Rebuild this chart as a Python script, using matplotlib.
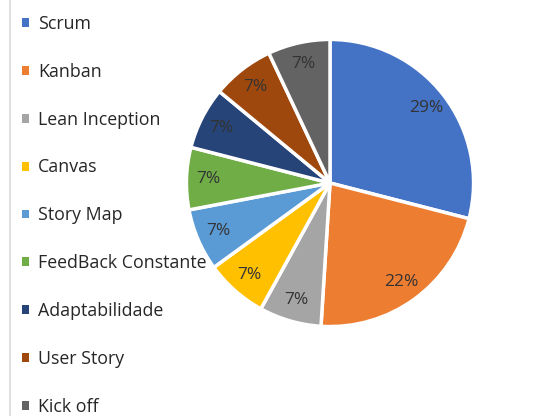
import matplotlib.pyplot as plt
from matplotlib.lines import Line2D

# data
labels = ["Scrum", "Kanban", "Lean Inception", "Canvas", "Story Map",
          "FeedBack Constante", "Adaptabilidade", "User Story", "Kick off"]
values = [29, 22, 7, 7, 7, 7, 7, 7, 7]
colors = ["#4472C4", "#ED7D31", "#A5A5A5", "#FFC000", "#5B9BD5",
          "#70AD47", "#264478", "#9E480E", "#636363"]

W, H = 553, 416
fig = plt.figure(figsize=(W / 100, H / 100), dpi=100)
fig.patch.set_facecolor("white")

# pie centred at (330,183) px, radius ~144 px
cx, cy, r = 330, 183, 145
ax = fig.add_axes([(cx - r) / W, (H - cy - r) / H, 2 * r / W, 2 * r / H])
wedges, texts, autotexts = ax.pie(
    values, colors=colors, startangle=90, counterclock=False,
    autopct="%d%%", pctdistance=0.85, radius=1,
    wedgeprops=dict(edgecolor="white", linewidth=2.5),
    textprops=dict(color="#333333", fontsize=12.5, family="Open Sans"))
ax.set_xlim(-1.01, 1.01)
ax.set_ylim(-1.01, 1.01)
ax.set_aspect("equal")
ax.axis("off")

# legend on the left
leg = fig.legend(wedges, labels, loc="upper left",
                 bbox_to_anchor=(13 / W, 1 - 6 / H), frameon=False,
                 handlelength=0.4, handleheight=0.4, handletextpad=0.5,
                 labelspacing=1.68, borderpad=0,
                 prop=dict(family="Open Sans", size=12.8))
leg.set_zorder(5)
for t in leg.get_texts():
    t.set_color("#262626")
for h in leg.legend_handles:
    h.set_edgecolor("none")

# left border line
fig.add_artist(Line2D([10 / W, 10 / W], [0, 1], color="#d9d9d9", lw=1.2))

# cut-off caption at the top
fig.text(300 / W, 1 + 4 / H, "g", family="Liberation Serif", fontsize=12,
         ha="center", va="baseline", color="black")

fig.savefig("out.png", dpi=100)
